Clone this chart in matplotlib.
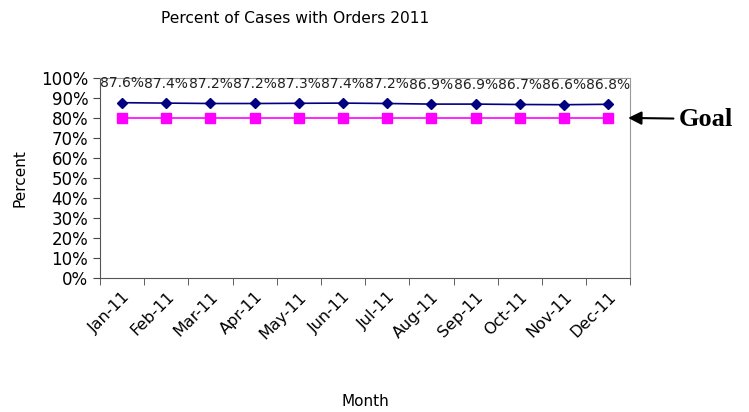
import matplotlib.pyplot as plt
from matplotlib.ticker import PercentFormatter

# monthly data
months = ['Jan-11', 'Feb-11', 'Mar-11', 'Apr-11', 'May-11', 'Jun-11',
          'Jul-11', 'Aug-11', 'Sep-11', 'Oct-11', 'Nov-11', 'Dec-11']
percent = [87.6, 87.4, 87.2, 87.2, 87.3, 87.4, 87.2, 86.9, 86.9, 86.7, 86.6, 86.8]
goal = [80] * 12

fig = plt.figure(figsize=(7.49, 4.12), dpi=100)
ax = fig.add_axes([0.1335, 0.325, 0.708, 0.486])

x = list(range(len(months)))
ax.plot(x, percent, color='#000080', marker='D', markersize=5, linewidth=1.2)
ax.plot(x, goal, color='#FF00FF', marker='s', markersize=7, linewidth=1.2)

# data labels
for i, v in enumerate(percent):
    ax.annotate('%.1f%%' % v, (i, v), xytext=(0, 9), textcoords='offset points',
                ha='center', va='bottom', fontsize=10, color='#222222')

ax.set_xlim(-0.5, 11.5)
ax.set_ylim(0, 100)
ax.set_yticks(range(0, 101, 10))
ax.yaxis.set_major_formatter(PercentFormatter(decimals=0))
ax.set_xticks(x)
ax.set_xticklabels(months, rotation=45, ha='right', rotation_mode='anchor', fontsize=11.5)
ax.set_xticks([i - 0.5 for i in range(13)], minor=True)
ax.tick_params(axis='x', which='major', length=0, pad=8)
ax.tick_params(axis='x', which='minor', length=5, color='#444444')
ax.tick_params(axis='y', labelsize=12, length=5, color='#444444')

for s in ['left', 'bottom']:
    ax.spines[s].set_color('#555555')
for s in ['top', 'right']:
    ax.spines[s].set_color('#999999')

ax.set_ylabel('Percent', fontsize=11, labelpad=10)
ax.set_xlabel('Month', fontsize=11, labelpad=38)
fig.text(0.394, 0.955, 'Percent of Cases with Orders 2011', ha='center', va='center', fontsize=11.2)

# goal arrow
ax.annotate('Goal', xy=(11.45, 80), xycoords='data', xytext=(679, 293),
            textcoords='figure pixels', annotation_clip=False,
            fontsize=19, fontweight='bold', family='Liberation Serif', va='center', ha='left',
            arrowprops=dict(arrowstyle='-|>', color='black', lw=1.5, mutation_scale=20,
                            shrinkA=2, shrinkB=0))

fig.savefig('out.png', dpi=100)
